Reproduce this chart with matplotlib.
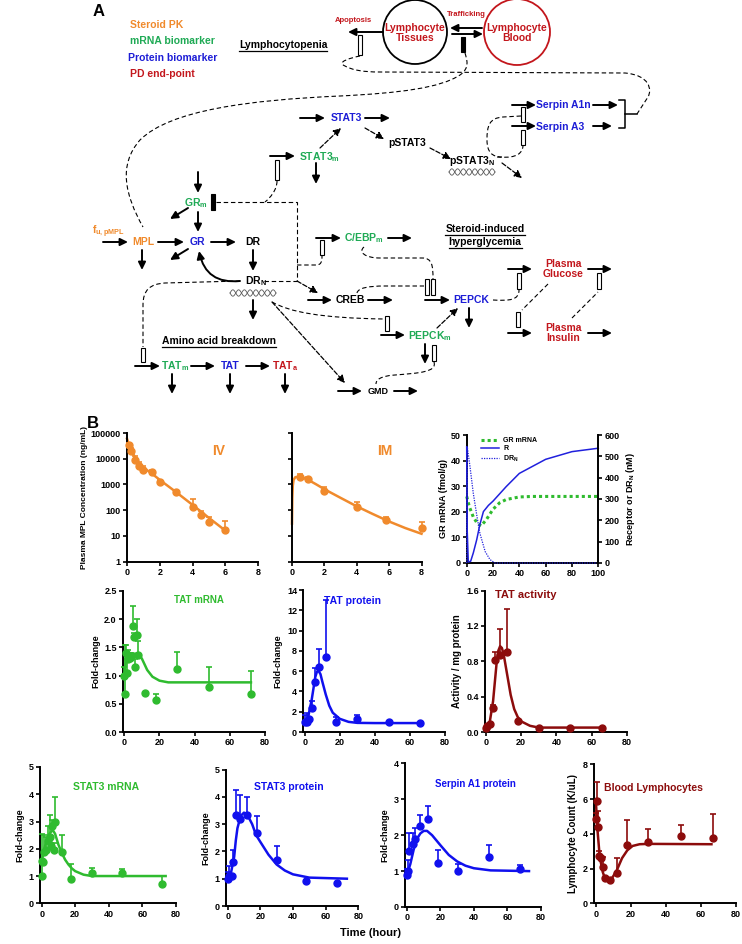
import numpy as np
import matplotlib
matplotlib.use("Agg")
import matplotlib.pyplot as plt
from matplotlib.patches import Circle, Rectangle, PathPatch
from matplotlib.path import Path

plt.rcParams["font.family"] = ["Liberation Sans", "DejaVu Sans"]
plt.rcParams["font.weight"] = "bold"
plt.rcParams["axes.labelweight"] = "bold"
plt.rcParams["mathtext.fontset"] = "custom"
plt.rcParams["mathtext.rm"] = "Liberation Sans:bold"
plt.rcParams["mathtext.it"] = "Liberation Sans:bold"
plt.rcParams["mathtext.bf"] = "Liberation Sans:bold"

# ---------------- panel B data ----------------
# MPL PK, IV
iv_t = [0.1, 0.27, 0.5, 0.75, 1.0, 1.5, 2, 3, 4, 4.5, 5, 6]
iv_c = [35000, 20000, 9000, 5400, 3500, 3000, 1250, 490, 127, 66, 35, 17]
iv_up = [42000, 25000, 13000, 7200, 5000, 3500, 1500, 570, 270, 94, 53, 38]
iv_fit_t = [0, 0.1, 0.25, 0.5, 0.75, 1, 1.5, 2, 3, 4, 5, 6, 6.1]
iv_fit_c = [60000, 38000, 22000, 11000, 6500, 4500, 2700, 1500, 500, 160, 50, 16, 13.5]

# MPL PK, IM
im_t = [0.5, 1.0, 2, 4, 5.8, 8]
im_c = [1950, 1650, 570, 130, 40, 20]
im_up = [2600, 1950, 790, 205, 56, 36]
im_fit_t = [0, 0.02, 0.05, 0.1, 0.2, 0.4, 0.7, 1, 1.5, 2, 3, 4, 5, 6, 7, 8]
im_fit_c = [30, 300, 900, 1500, 1900, 2000, 1800, 1500, 1000, 650, 300, 140, 70, 36, 20, 12]

# receptor simulation
gr_t = [0, 2, 5, 8, 11, 15, 20, 25, 30, 40, 50, 60, 80, 100]
gr_mrna = [26, 22, 18, 15.5, 14.5, 17, 21, 23.5, 24.8, 25.8, 26, 26, 26, 26]
r_t = [0, 0.4, 1.2, 3, 5, 7.6, 10, 12.7, 16.5, 20, 30, 40, 60, 80, 100]
r_val = [545, 150, 5, 8, 47, 109, 180, 241, 270, 290, 358, 420, 486, 522, 538]
drn_t = [0, 0.4, 2.5, 5, 7.6, 10, 14, 17.7, 21.5, 30, 100]
drn_val = [0, 545, 452, 327, 226, 140, 54, 16, 0, 0, 0]

# TAT mRNA
tm_t = [0, 0.5, 1, 1.5, 2, 3, 4, 5, 5.5, 6, 7, 8, 12, 18, 30, 48, 72]
tm_v = [1.0, 0.68, 1.4, 1.05, 1.3, 1.32, 1.35, 1.88, 1.68, 1.15, 1.72, 1.36, 0.69, 0.57, 1.12, 0.79, 0.68]
tm_up = [1.15, 1.55, 1.55, 1.3, 1.45, 1.4, 1.4, 2.23, 1.75, 1.3, 2.0, 1.62, 0.7, 0.68, 1.41, 1.16, 1.08]
tm_fit_t = [0, 1, 2, 4, 6, 8, 10, 13, 16, 20, 25, 30, 40, 72]
tm_fit_v = [1.0, 1.3, 1.37, 1.38, 1.39, 1.38, 1.3, 1.1, 0.98, 0.91, 0.88, 0.88, 0.88, 0.88]

# TAT protein
tp_t = [0, 1.1, 2.4, 4.3, 5.8, 8.1, 12, 18, 30, 48, 66]
tp_v = [1.03, 0.94, 1.26, 2.4, 4.9, 6.45, 7.4, 0.97, 1.26, 1.0, 0.9]
tp_up = [1.7, 1.9, 1.4, 3.1, 6.3, 8.2, 13.0, 1.5, 1.7, 1.0, 0.9]
tp_fit_t = [0, 2, 4, 6, 7, 8, 9, 10, 12, 14, 16, 20, 25, 30, 40, 66]
tp_fit_v = [1.0, 1.5, 3.2, 5.4, 5.95, 6.0, 5.7, 5.0, 3.7, 2.6, 1.9, 1.3, 1.0, 0.9, 0.88, 0.88]

# TAT activity
ta_t = [0, 0.6, 2.3, 3.8, 5.3, 8, 12, 18, 30, 48, 66]
ta_v = [0.05, 0.07, 0.09, 0.275, 0.81, 0.87, 0.9, 0.125, 0.04, 0.04, 0.05]
ta_up = [0.05, 0.07, 0.1, 0.31, 0.9, 1.17, 1.39, 0.14, 0.04, 0.04, 0.05]
ta_fit_t = [0, 2, 4, 6, 7, 8, 9, 10, 12, 14, 16, 18, 20, 25, 30, 66]
ta_fit_v = [0.05, 0.1, 0.35, 0.78, 0.92, 0.97, 0.95, 0.88, 0.65, 0.42, 0.26, 0.17, 0.12, 0.07, 0.05, 0.05]

# STAT3 mRNA
sm_t = [0, 0.3, 1, 1.4, 2.5, 3.9, 4.9, 5.8, 6.2, 7.4, 7.8, 12, 17.5, 30, 48, 72]
sm_v = [1.0, 1.55, 1.5, 1.9, 1.95, 2.3, 2.45, 2.1, 2.85, 1.95, 3.0, 1.9, 0.9, 1.12, 1.1, 0.7]
sm_up = [1.6, 2.55, 1.5, 2.5, 2.45, 2.85, 3.25, 2.2, 3.05, 2.2, 3.9, 2.5, 1.45, 1.3, 1.25, 1.0]
sm_fit_t = [0, 1, 2, 4, 6, 7, 8, 10, 12, 14, 16, 18, 20, 25, 30, 74]
sm_fit_v = [1.5, 1.85, 2.1, 2.5, 2.65, 2.65, 2.55, 2.15, 1.85, 1.6, 1.42, 1.28, 1.18, 1.05, 1.0, 1.0]

# STAT3 protein
sp_t = [0, 1, 2.4, 3.4, 5, 7.4, 12, 17.8, 30, 48, 67]
sp_v = [1.0, 1.1, 1.1, 1.6, 3.35, 3.2, 3.35, 2.67, 1.7, 0.92, 0.86]
sp_up = [1.25, 1.45, 1.15, 2.05, 4.25, 4.08, 4.0, 3.28, 2.2, 0.92, 0.86]
sp_fit_t = [0, 2, 4, 5, 6, 8, 10, 12, 15, 17.4, 20, 25, 30, 35, 40, 50, 73]
sp_fit_v = [1.0, 1.2, 1.8, 2.4, 2.85, 3.3, 3.42, 3.35, 3.0, 2.6, 2.35, 1.88, 1.52, 1.3, 1.16, 1.04, 1.0]

# Serpin A1 protein
sa_t = [0, 0.4, 1.4, 3.4, 4.8, 7.9, 12.3, 18.4, 30.7, 48.9, 67.5]
sa_v = [0.88, 1.0, 1.57, 1.75, 1.9, 2.25, 2.45, 1.22, 1.0, 1.38, 1.05]
sa_up = [1.05, 1.3, 2.07, 2.05, 2.2, 2.55, 2.8, 1.6, 1.2, 1.72, 1.17]
sa_fit_t = [0, 2, 4, 6, 8, 10, 12, 15, 20, 25, 30, 35, 40, 50, 73]
sa_fit_v = [0.9, 1.2, 1.6, 1.9, 2.05, 2.12, 2.12, 2.0, 1.72, 1.45, 1.27, 1.15, 1.08, 1.02, 1.0]

# Blood lymphocytes
bl_t = [0, 0.5, 1, 2, 3, 4, 5.5, 8, 12, 18, 30, 48.7, 67]
bl_v = [4.85, 5.9, 4.4, 2.7, 2.6, 2.1, 1.45, 1.35, 1.77, 3.33, 3.52, 3.88, 3.77]
bl_up = [5.2, 7.0, 5.3, 3.0, 2.6, 2.65, 1.45, 1.35, 2.6, 4.8, 4.3, 4.5, 5.15]
bl_fit_t = [0, 1, 2, 3, 4, 5, 7, 9, 12, 15, 18, 21, 25, 30, 66]
bl_fit_v = [6.0, 4.2, 3.0, 2.3, 1.8, 1.5, 1.3, 1.4, 1.9, 2.6, 3.05, 3.3, 3.4, 3.42, 3.4]

# ---------------- colours ----------------
ORANGE = "#f08a2c"
GREEN_T = "#1faa55"
BLUE_T = "#1d1dd6"
RED = "#c3161c"
GREEN = "#2fbb2f"
BLUE = "#1010ee"
DRED = "#8c0c0c"

W, H = 742, 944
fig = plt.figure(figsize=(W / 100, H / 100), dpi=100)

# full-figure canvas in pixel units for the schematic
ax0 = fig.add_axes([0, 0, 1, 1])
ax0.set_xlim(0, W)
ax0.set_ylim(H, 0)
ax0.axis("off")


def txt(x, y, s, color="k", size=7.5, ha="center", **kw):
    return ax0.text(x, y, s, color=color, fontsize=size, ha=ha, va="center",
                    fontweight="bold", **kw)


def arr(x0, y0, x1, y1, dashed=False, rad=0.0):
    ax0.annotate("", xy=(x1, y1), xytext=(x0, y0),
                 arrowprops=dict(arrowstyle="-|>,head_length=0.45,head_width=0.22",
                                 color="k", lw=0.9 if dashed else 1.4,
                                 ls="--" if dashed else "-",
                                 shrinkA=0, shrinkB=0, mutation_scale=10,
                                 connectionstyle=f"arc3,rad={rad}"))


def bar(x, y0, y1, filled=False):
    ax0.add_patch(Rectangle((x - 2.2, y0), 4.4, y1 - y0, fc="k" if filled else "white",
                            ec="k", lw=0.8, zorder=3))


def dash(verts, kinds):
    codes = {"M": Path.MOVETO, "L": Path.LINETO, "C": Path.CURVE4}
    ax0.add_patch(PathPatch(Path(verts, [codes[k] for k in kinds]), fill=False,
                            ls=(0, (4, 2.5)), lw=0.8, ec="k"))


def helix(cx, cy, w=46, amp=3.2, per=11.5):
    xs = np.linspace(cx - w / 2, cx + w / 2, 150)
    for ph in (0, np.pi):
        ax0.plot(xs, cy + amp * np.sin(2 * np.pi * (xs - cx) / per + ph), color="#555555", lw=0.6)


underlined = []

# panel labels and legend
txt(99, 11, "A", size=12)
txt(93, 424, "B", size=12)
txt(130, 25, "Steroid PK", ORANGE, ha="left")
txt(130, 41, "mRNA biomarker", GREEN_T, ha="left")
txt(128, 58, "Protein biomarker", BLUE_T, ha="left")
txt(130, 74, "PD end-point", RED, ha="left")
underlined.append(txt(283, 45, "Lymphocytopenia"))
underlined.append(txt(219, 341, "Amino acid breakdown"))
underlined.append(txt(485, 229, "Steroid-induced"))
underlined.append(txt(485, 242, "hyperglycemia"))

# lymphocyte compartments
ax0.add_patch(Circle((415, 32), 32, fill=False, ec="k", lw=1.3))
ax0.add_patch(Circle((517, 32), 33, fill=False, ec=RED, lw=1.3))
txt(415, 33, "Lymphocyte\nTissues", RED, linespacing=1.1)
txt(517, 33, "Lymphocyte\nBlood", RED, linespacing=1.1)
txt(466, 14, "Trafficking", RED, size=5.5)
txt(353, 21, "Apoptosis", RED, size=5.5)
arr(482, 28, 450, 28)
arr(452, 34, 483, 34)
arr(383, 32, 348, 32)
bar(463, 37, 52, filled=True)
bar(360, 35, 55)
dash([(465, 53), (467, 60), (470, 68), (460, 75), (440, 88), (400, 93), (340, 96),
      (250, 100), (170, 110), (140, 140), (118, 165), (125, 195), (143, 227)],
     "MCCCCCCCCCCCC")
dash([(360, 56), (350, 58), (336, 62), (345, 66), (352, 70), (362, 72), (380, 72),
      (625, 73), (650, 75), (652, 90), (648, 97), (637, 114)],
     "MCCCCCCLCCCL")

# STAT3 / serpin branch
arr(300, 118, 325, 118)
txt(346, 118, "STAT3", BLUE_T)
arr(365, 118, 390, 118)
arr(320, 148, 341, 128, dashed=True)
arr(270, 156, 295, 156)
txt(320, 157, r"STAT3$_\mathrm{m}$", GREEN_T)
bar(277, 160, 180)
arr(316, 163, 316, 184)
dash([(277, 181), (277, 190), (270, 198), (265, 202)], "MCCC")
arr(365, 128, 384, 139, dashed=True)
txt(407, 143, "pSTAT3")
arr(430, 148, 451, 159, dashed=True)
txt(472, 161, r"pSTAT3$_\mathrm{N}$")
helix(472, 172)
arr(502, 163, 522, 178, dashed=True)
arr(512, 105, 536, 105)
arr(512, 126, 536, 126)
txt(563, 105, "Serpin A1n", BLUE_T)
txt(560, 127, "Serpin A3", BLUE_T)
arr(593, 105, 618, 105)
arr(593, 126, 612, 126)
ax0.plot([619, 625, 625, 619], [100, 100, 128, 128], color="k", lw=1.1)
ax0.plot([625, 637], [114, 114], color="k", lw=1.1)
bar(523, 107, 122)
bar(523, 130, 145)
dash([(497, 157), (510, 158), (522, 157), (523, 146)], "MCCC")
dash([(521, 116), (503, 117), (489, 118), (487, 126), (487, 140), (487, 152), (492, 157),
      (502, 157)], "MLCCCCCC")

# receptor dynamics
arr(198, 172, 198, 193)
txt(196, 203, r"GR$_\mathrm{m}$", GREEN_T)
bar(213, 194, 210, filled=True)
dash([(216, 202), (297, 202), (297, 281)], "MLL")
dash([(264, 281), (297, 281)], "ML")
arr(198, 212, 198, 232)
arr(188, 208, 170, 219)
txt(108, 232, r"f$_\mathrm{u,pMPL}$", ORANGE)
arr(103, 242, 128, 242)
txt(143, 242, "MPL", ORANGE)
arr(158, 242, 184, 242)
txt(197, 242, "GR", BLUE_T)
arr(211, 242, 236, 242)
txt(253, 242, "DR")
arr(142, 250, 142, 270)
arr(188, 249, 170, 260)
arr(253, 250, 253, 271)
txt(256, 281, r"DR$_\mathrm{N}$")
arr(240, 281, 199, 251, rad=-0.45)
helix(253, 293)
arr(253, 300, 253, 320)

# amino acid breakdown
dash([(240, 281), (165, 283), (150, 284), (143, 290), (143, 305), (143, 347)], "MLCCCL")
bar(143, 348, 362)
arr(135, 366, 160, 366)
txt(175, 366, r"TAT$_\mathrm{m}$", GREEN_T)
arr(191, 366, 215, 366)
txt(230, 366, "TAT", BLUE_T)
arr(246, 366, 270, 366)
txt(285, 366, r"TAT$_\mathrm{a}$", RED)
for xx in (172, 230, 285):
    arr(xx, 374, xx, 394)

# hyperglycemia branch
arr(272, 302, 345, 383, dashed=True)
arr(338, 391, 362, 391)
txt(378, 391, "GMD", size=6.5)
arr(394, 391, 418, 391)
dash([(272, 302), (290, 312), (320, 318), (384, 319)], "MCCC")
bar(387, 316, 331)
arr(381, 335, 405, 335)
txt(430, 336, r"PEPCK$_\mathrm{m}$", GREEN_T)
arr(297, 281, 318, 293, dashed=True)
arr(308, 300, 332, 300)
txt(350, 300, "CREB")
arr(368, 300, 393, 300)
arr(316, 238, 341, 238)
txt(364, 238, r"C/EBP$_\mathrm{m}$", GREEN_T)
arr(388, 238, 412, 238)
bar(322, 240, 255)
dash([(297, 265), (316, 265), (321, 265), (322, 262), (322, 256)], "MLCCC")
dash([(364, 247), (358, 252), (365, 258), (380, 258), (422, 258), (432, 258), (433, 265),
      (433, 279)], "MCCCLCCC")
dash([(357, 293), (358, 288), (368, 286), (385, 286), (424, 286)], "MCCCL")
bar(427, 279, 295)
bar(433, 279, 295)
arr(425, 300, 450, 300)
txt(471, 300, "PEPCK", BLUE_T)
arr(469, 308, 469, 328)
arr(437, 328, 458, 308, dashed=True)
arr(425, 344, 425, 364)
bar(434, 345, 361)
dash([(434, 362), (437, 372), (420, 373), (395, 375), (380, 376), (376, 380), (376, 384)],
     "MCCCCCC")
dash([(493, 300), (510, 301), (519, 300), (519, 290)], "MCCC")
bar(519, 273, 289)
arr(508, 269, 532, 269)
txt(563, 269, "Plasma\nGlucose", RED, linespacing=1.1)
arr(588, 269, 612, 269)
bar(599, 273, 289)
dash([(548, 284), (522, 310)], "ML")
bar(518, 312, 327)
arr(508, 333, 532, 333)
txt(563, 333, "Plasma\nInsulin", RED, linespacing=1.1)
arr(588, 333, 612, 333)
dash([(572, 318), (598, 292)], "ML")

# underline headings
renderer = fig.canvas.get_renderer()
inv = ax0.transData.inverted()
for t in underlined:
    bb = t.get_window_extent(renderer)
    (xa, ya), (xb, yb) = inv.transform([(bb.x0, bb.y0), (bb.x1, bb.y1)])
    ax0.plot([xa, xb], [ya + 0.5, ya + 0.5], color="k", lw=0.9)


# ---------------- panel B ----------------
def add_panel(xpx, ypx):
    (l, r), (b, t) = xpx, ypx
    ax = fig.add_axes([l / W, 1 - b / H, (r - l) / W, (b - t) / H])
    ax.patch.set_visible(False)
    return ax


def style(ax):
    for s in ("top", "right"):
        ax.spines[s].set_visible(False)
    for s in ("left", "bottom"):
        ax.spines[s].set_linewidth(1.4)
    ax.tick_params(direction="out", length=3, width=1.2, labelsize=6.5, pad=1.5)


def points(ax, t, v, up, color):
    v = np.asarray(v, float)
    up = np.asarray(up, float)
    eb = ax.errorbar(t, v, yerr=[np.zeros_like(v), up - v], fmt="o", color=color, ms=5,
                     capsize=2.5, elinewidth=1.2, capthick=1.2, zorder=3)
    for art in [eb[0], *eb[1], *eb[2]]:
        art.set_clip_on(False)


def fit(ax, t, v, color, **kw):
    ax.plot(t, v, color=color, lw=1.8, clip_on=False, zorder=2, **kw)


log_ticks = [1, 10, 100, 1000, 10000, 100000]

ax = add_panel((127, 258), (561.5, 433))
style(ax)
ax.set_yscale("log")
ax.set_xlim(0, 8)
ax.set_ylim(1, 1e5)
ax.set_yticks(log_ticks)
ax.set_yticklabels([str(v) for v in log_ticks])
ax.minorticks_off()
ax.set_xticks([0, 2, 4, 6, 8])
points(ax, iv_t, iv_c, iv_up, ORANGE)
fit(ax, iv_fit_t, iv_fit_c, ORANGE)
ax.set_ylabel("Plasma MPL Concentration (ng/mL)", fontsize=6, labelpad=2)
ax.text(0.7, 0.86, "IV", transform=ax.transAxes, color=ORANGE, fontsize=10,
        ha="center", va="center")

ax = add_panel((292, 421.5), (561.5, 433))
style(ax)
ax.set_yscale("log")
ax.set_xlim(0, 8)
ax.set_ylim(1, 1e5)
ax.set_yticks(log_ticks)
ax.set_yticklabels([])
ax.minorticks_off()
ax.set_xticks([0, 2, 4, 6, 8])
points(ax, im_t, im_c, im_up, ORANGE)
fit(ax, im_fit_t, im_fit_c, ORANGE)
ax.text(0.72, 0.86, "IM", transform=ax.transAxes, color=ORANGE, fontsize=10,
        ha="center", va="center")

ax = add_panel((466.7, 598.3), (563, 435))
style(ax)
ax.set_xlim(0, 100)
ax.set_ylim(0, 50)
ax.set_xticks([0, 20, 40, 60, 80, 100])
ax.set_yticks([0, 10, 20, 30, 40, 50])
l1, = ax.plot(gr_t, gr_mrna, color=GREEN, lw=2.2, ls=(0, (1, 1)), clip_on=False)
ax.set_ylabel("GR mRNA (fmol/g)", fontsize=6.5, labelpad=2)
ax2 = ax.twinx()
ax2.patch.set_visible(False)
for s in ("top", "left", "bottom"):
    ax2.spines[s].set_visible(False)
ax2.spines["right"].set_linewidth(1.4)
ax2.tick_params(direction="out", length=3, width=1.2, labelsize=6.5, pad=1.5)
ax2.set_ylim(0, 600)
ax2.set_yticks([0, 100, 200, 300, 400, 500, 600])
l2, = ax2.plot(r_t, r_val, color="#2020dd", lw=1.1, clip_on=False)
l3, = ax2.plot(drn_t, drn_val, color="#2020dd", lw=0.9, ls=(0, (1, 1)), clip_on=False)
ax2.set_ylabel(r"Receptor or DR$_\mathrm{N}$ (nM)", fontsize=6.5, labelpad=3)
ax.legend([l1, l2, l3], ["GR mRNA", "R", r"DR$_\mathrm{N}$"], loc="upper left",
          bbox_to_anchor=(0.06, 1.03), frameon=False, fontsize=5, handlelength=2.6,
          labelspacing=0.15, handletextpad=0.6)

lower = [
    ((123, 265), (732, 591), 0.75, 2.5, [0, 0.5, 1.0, 1.5, 2.0, 2.5], tm_t, tm_v, tm_up,
     tm_fit_t, tm_fit_v, GREEN, "Fold-change"),
    ((303.3, 445), (732, 590), 0.8, 14, list(range(0, 15, 2)), tp_t, tp_v, tp_up,
     tp_fit_t, tp_fit_v, BLUE, "Fold-change"),
    ((485, 626.7), (732, 590.5), 0.6, 1.6, [0, 0.4, 0.8, 1.2, 1.6], ta_t, ta_v, ta_up,
     ta_fit_t, ta_fit_v, DRED, "Activity / mg protein"),
    ((40, 175.7), (903.3, 767), 1.0, 5, [0, 1, 2, 3, 4, 5], sm_t, sm_v, sm_up,
     sm_fit_t, sm_fit_v, GREEN, "Fold-change"),
    ((226, 358.3), (906, 769.5), 1.0, 5, [0, 1, 2, 3, 4, 5], sp_t, sp_v, sp_up,
     sp_fit_t, sp_fit_v, BLUE, "Fold-change"),
    ((405, 540.7), (907, 763.4), 1.2, 4, [0, 1, 2, 3, 4], sa_t, sa_v, sa_up,
     sa_fit_t, sa_fit_v, BLUE, "Fold-change"),
    ((594, 736), (903.3, 764.3), 1.0, 8, [0, 2, 4, 6, 8], bl_t, bl_v, bl_up,
     bl_fit_t, bl_fit_v, DRED, "Lymphocyte Count (K/uL)"),
]
for xpx, ypx, pad, ymax, yt, t, v, up, ft, fv, col, ylab in lower:
    ax = add_panel(xpx, ypx)
    style(ax)
    ax.set_xlim(-pad, 80)
    ax.set_ylim(0, ymax)
    ax.set_xticks([0, 20, 40, 60, 80])
    ax.set_yticks(yt)
    points(ax, t, v, up, col)
    fit(ax, ft, fv, col)
    ax.set_ylabel(ylab, fontsize=6.5 if ylab == "Fold-change" else 7, labelpad=3)

# panel titles
txt(199, 600, "TAT mRNA", GREEN, size=7)
txt(352, 601, "TAT protein", BLUE, size=7.5)
txt(526, 595, "TAT activity", DRED, size=8)
txt(106, 787, "STAT3 mRNA", GREEN, size=7.5)
txt(289, 787, "STAT3 protein", BLUE, size=7.5)
txt(475, 784, "Serpin A1 protein", BLUE, size=7)
txt(653, 788, "Blood Lymphocytes", DRED, size=7.5)
txt(370, 933, "Time (hour)", size=8)

fig.savefig("out.png", dpi=100)
